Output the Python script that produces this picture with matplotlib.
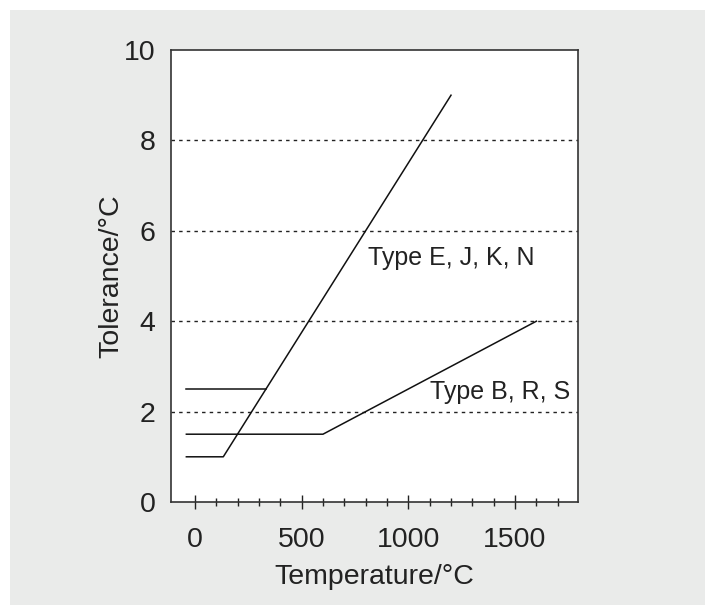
import matplotlib
matplotlib.use("Agg")
import matplotlib.pyplot as plt
from matplotlib.patches import Rectangle

plt.rcParams['font.family'] = ['Liberation Sans', 'DejaVu Sans']

# Type E, J, K, N tolerance curve
ejkn_t = [-40, 133, 1200]
ejkn_tol = [1.0, 1.0, 9.0]
# extra flat 2.5 segment
ejkn2_t = [-40, 333]
ejkn2_tol = [2.5, 2.5]
# Type B, R, S tolerance curve
brs_t = [-40, 600, 1600]
brs_tol = [1.5, 1.5, 4.0]

xticks = [0, 500, 1000, 1500]
yticks = [0, 2, 4, 6, 8, 10]
grid_y = [2, 4, 6, 8]

ink = '#222222'
fs = 20.5
fig = plt.figure(figsize=(7.05, 6.05), dpi=100)
fig.patch.set_facecolor('white')
fig.patches.append(Rectangle((10/705, 0), 1, 1 - 10/605, transform=fig.transFigure,
                             facecolor='#eaebea', edgecolor='none', zorder=-10))

ax = fig.add_axes([171/705, 1 - 502/605, (578-171)/705, (502-50)/605])
ax.set_facecolor('white')

for g in grid_y:
    ax.axhline(g, color=ink, lw=1, ls=(0, (2.5, 3)), zorder=1)

ax.plot(ejkn_t, ejkn_tol, color='#111111', lw=1.1, zorder=2)
ax.plot(ejkn2_t, ejkn2_tol, color='#111111', lw=1.1, zorder=2)
ax.plot(brs_t, brs_tol, color='#111111', lw=1.1, zorder=2)

ax.text(811, 5.4, 'Type E, J, K, N', fontsize=18, color=ink, va='center', ha='left')
ax.text(1101, 2.43, 'Type B, R, S', fontsize=18, color=ink, va='center', ha='left')

ax.set_xlim(-112, 1795)
ax.set_ylim(0, 10)
ax.set_xticks(xticks)
ax.set_xticks(range(0, 1800, 100), minor=True)
ax.set_yticks(yticks)
ax.tick_params(axis='x', which='major', direction='inout', length=9.6, width=1,
               color=ink, labelsize=fs, labelcolor=ink, pad=13)
ax.tick_params(axis='x', which='minor', direction='inout', length=6.2, width=1, color=ink)
ax.tick_params(axis='y', length=0, labelsize=fs, labelcolor=ink, pad=11)

for s in ax.spines.values():
    s.set_color('#333333')
    s.set_linewidth(1.2)

ax.set_xlabel('Temperature/°C', fontsize=fs, color=ink, labelpad=8)
ax.set_ylabel('Tolerance/°C', fontsize=fs, color=ink, labelpad=0)

fig.savefig('out.png', dpi=100)
